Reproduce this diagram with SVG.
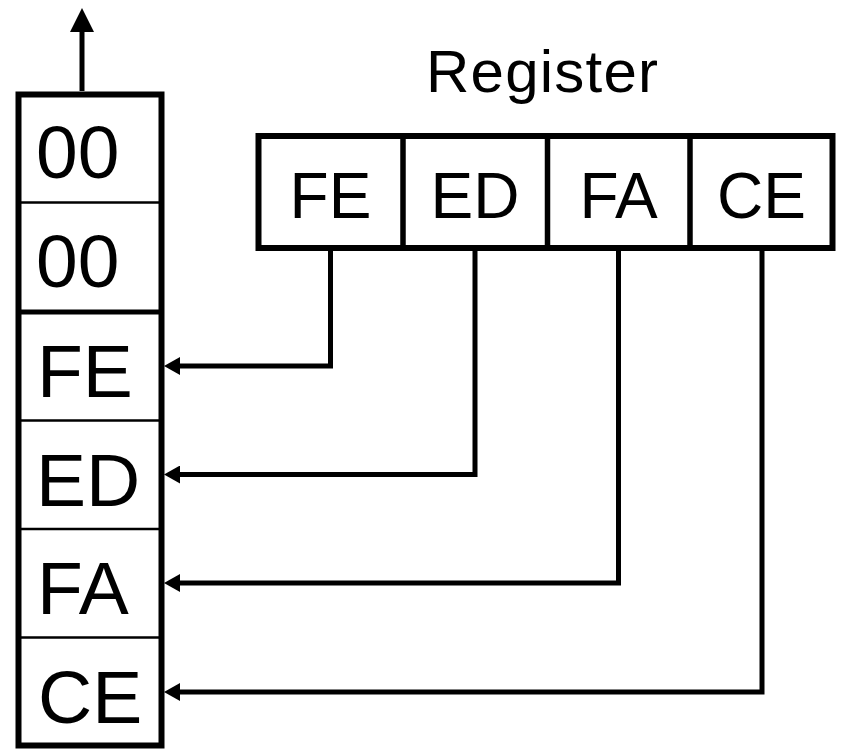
<svg xmlns="http://www.w3.org/2000/svg" width="843" height="749" viewBox="0 0 843 749">
<defs>
<style>
.box{fill:#fff;stroke:#000;stroke-width:6}
.thin{stroke:#000;stroke-width:2.5}
.thick{stroke:#000;stroke-width:5}
.div{stroke:#000;stroke-width:5.5}
.t{font-family:"Liberation Sans",Arial,sans-serif;fill:#000}
.st{font-size:75px}
.rt{font-size:64px;text-anchor:middle}
.conn{fill:none;stroke:#000;stroke-width:5;stroke-linejoin:miter}
</style>
<marker id="ah" markerUnits="userSpaceOnUse" markerWidth="16" markerHeight="18" viewBox="0 0 16 18" refX="8" refY="9" orient="auto">
<path d="M0,0 L16,9 L0,18 z" fill="#000"/>
</marker>
<marker id="up" markerUnits="userSpaceOnUse" markerWidth="24" markerHeight="24" viewBox="0 0 24 24" refX="12" refY="12" orient="auto">
<path d="M0,0 L24,12 L0,24 z" fill="#000"/>
</marker>
</defs>
<rect width="843" height="749" fill="#fff"/>

<g id="stack">
<rect class="box" x="18.5" y="94.5" width="143" height="651"/>
<line class="thin" x1="18.5" y1="202.5" x2="161.5" y2="202.5"/>
<line class="thick" x1="18.5" y1="312" x2="161.5" y2="312"/>
<line class="thin" x1="18.5" y1="420.5" x2="161.5" y2="420.5"/>
<line class="thin" x1="18.5" y1="529" x2="161.5" y2="529"/>
<line class="thin" x1="18.5" y1="637.5" x2="161.5" y2="637.5"/>
<text class="t st" x="36" y="178">00</text>
<text class="t st" x="36" y="287">00</text>
<text class="t st" x="37" y="396.5">FE</text>
<text class="t st" x="36" y="505.5">ED</text>
<text class="t st" x="37" y="614">FA</text>
<text class="t st" x="38" y="723">CE</text>
</g>

<g id="register-label">
<text class="t" x="542" y="92" font-size="60" text-anchor="middle" textLength="232" lengthAdjust="spacing">Register</text>
</g>

<g id="register">
<rect class="box" x="258.5" y="136" width="574" height="112"/>
<line class="div" x1="403" y1="136" x2="403" y2="248"/>
<line class="div" x1="547.5" y1="136" x2="547.5" y2="248"/>
<line class="div" x1="690" y1="136" x2="690" y2="248"/>
<text class="t rt" x="330.5" y="218">FE</text>
<text class="t rt" x="475" y="218">ED</text>
<text class="t rt" x="618.5" y="218">FA</text>
<text class="t rt" x="761.5" y="218">CE</text>
</g>

<g id="connectors">
<path class="conn" d="M82,91 L82,20" stroke-width="7" marker-end="url(#up)"/>
<path class="conn" d="M330.5,251 L330.5,366 L172,366" marker-end="url(#ah)"/>
<path class="conn" d="M475,251 L475,474.5 L172,474.5" marker-end="url(#ah)"/>
<path class="conn" d="M618.5,251 L618.5,583 L172,583" marker-end="url(#ah)"/>
<path class="conn" d="M762,251 L762,692 L172,692" marker-end="url(#ah)"/>
</g>
</svg>
